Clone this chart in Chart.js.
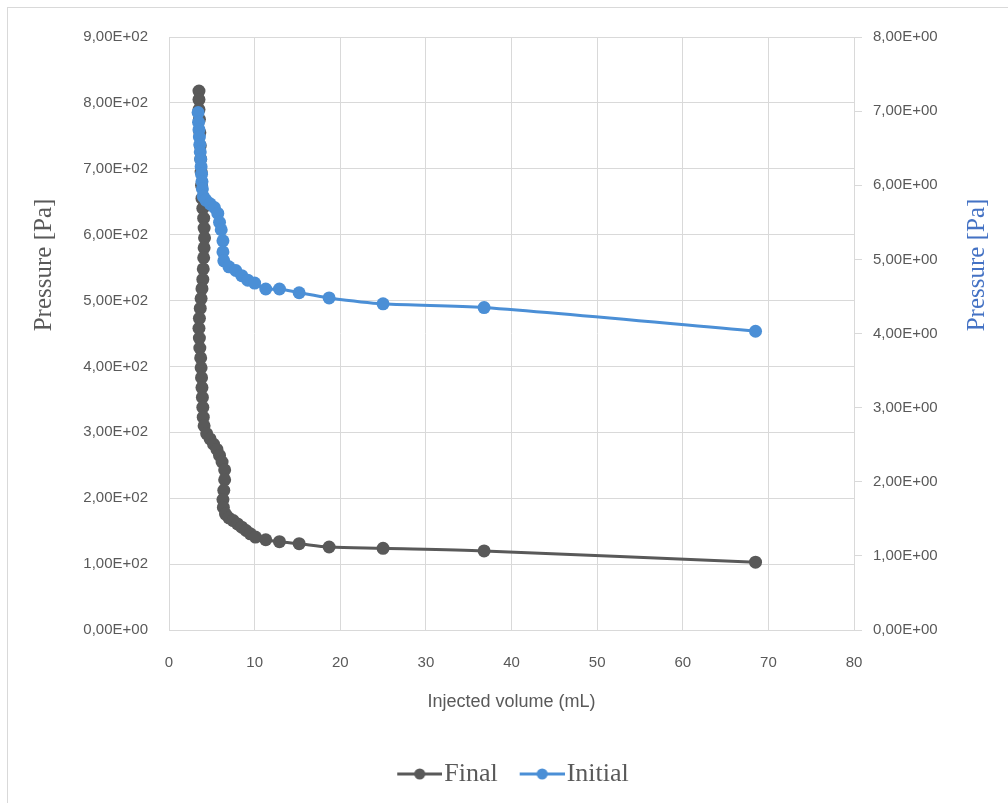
<!DOCTYPE html>
<html>
<head>
<meta charset="utf-8">
<script src="https://cdn.jsdelivr.net/npm/chart.js@4.4.0/dist/chart.umd.min.js"></script>
<style>
html, body { margin: 0; padding: 0; background: #fff; overflow: hidden; }
#frame { position: absolute; left: 7px; top: 7px; width: 1100px; height: 900px; border: 1px solid #d9d9d9; }
#wrap { position: absolute; left: 0; top: 0; width: 1008px; height: 803px; }
</style>
</head>
<body>
<div id="frame"></div>
<div id="wrap"><canvas id="myChart"></canvas></div>
<script>
// Final run (left axis)
var finalVolume = [3.5, 3.5, 3.5, 3.55, 3.6, 3.65, 3.7, 3.75, 3.8, 3.85, 3.95, 4.05, 4.1, 4.15, 4.1, 4.05, 4.0, 3.95, 3.85, 3.75,
    3.65, 3.55, 3.5, 3.55, 3.6, 3.7, 3.75, 3.8, 3.85, 3.9, 3.95, 4.0, 4.1, 4.4, 4.8, 5.2, 5.6, 5.9, 6.2, 6.5,
    6.5, 6.4, 6.3, 6.35, 6.6, 7.0, 7.5, 8.0, 8.5, 9.0, 9.5, 10.1, 11.3, 12.9, 15.2, 18.7, 25.0, 36.8, 68.5];
var finalPressure = [818, 805, 790, 775, 755, 735, 715, 695, 675, 655, 640, 625, 610, 595, 580, 565, 548, 532, 518, 503,
    488, 473, 458, 443, 428, 413, 398, 383, 368, 353, 338, 323, 310, 298, 290, 282, 274, 265, 255, 243,
    228, 212, 198, 186, 176, 170, 166, 161, 156, 151, 146, 141, 137, 134, 131, 126, 124, 120, 103];

// Initial run (right axis)
var initialVolume = [3.4, 3.45, 3.5, 3.55, 3.6, 3.65, 3.7, 3.75, 3.8, 3.85, 3.9, 4.0, 4.3, 4.8, 5.3, 5.7, 5.9, 6.1, 6.3, 6.3,
    6.4, 7.0, 7.8, 8.5, 9.2, 10.0, 11.3, 12.9, 15.2, 18.7, 25.0, 36.8, 68.5];
var initialPressure = [6.98, 6.85, 6.75, 6.65, 6.55, 6.45, 6.35, 6.25, 6.15, 6.05, 5.95, 5.85, 5.8, 5.75, 5.7, 5.62, 5.5, 5.4, 5.25, 5.1,
    4.98, 4.9, 4.85, 4.78, 4.72, 4.68, 4.6, 4.6, 4.55, 4.48, 4.4, 4.35, 4.03];

var xTickLabels = ['0', '10', '20', '30', '40', '50', '60', '70', '80'];
var leftTickLabels = ['0,00E+00', '1,00E+02', '2,00E+02', '3,00E+02', '4,00E+02', '5,00E+02', '6,00E+02', '7,00E+02', '8,00E+02', '9,00E+02'];
var rightTickLabels = ['0,00E+00', '1,00E+00', '2,00E+00', '3,00E+00', '4,00E+00', '5,00E+00', '6,00E+00', '7,00E+00', '8,00E+00'];
var seriesNames = ['Final', 'Initial'];
var yTitle = 'Pressure [Pa]';
var xTitle = 'Injected volume (mL)';

var gray = '#595959';
var blue = '#4b8fd6';
var gridColor = '#d9d9d9';

function toPoints(xs, ys) {
    return xs.map(function (x, i) { return { x: x, y: ys[i] }; });
}

// line with a dot, like the excel legend key (drawn in the right 45px of the image)
function legendKey(color) {
    var c = document.createElement('canvas');
    c.width = 56; c.height = 14;
    var g = c.getContext('2d');
    g.strokeStyle = color; g.lineWidth = 3;
    g.beginPath(); g.moveTo(11, 7); g.lineTo(56, 7); g.stroke();
    g.fillStyle = color;
    g.beginPath(); g.arc(33.5, 7, 5.5, 0, Math.PI * 2); g.fill();
    return c;
}
var keys = [legendKey(gray), legendKey(blue)];

// both y titles read bottom-to-top, as in the excel chart
var yTitles = {
    id: 'yTitles',
    afterDraw: function (chart) {
        var ctx = chart.ctx;
        ctx.save();
        ctx.font = '25px "Liberation Serif"';
        ctx.textAlign = 'center';
        ctx.textBaseline = 'middle';
        [[44, gray], [977, '#4472c4']].forEach(function (t) {
            ctx.save();
            ctx.translate(t[0], 265);
            ctx.rotate(-Math.PI / 2);
            ctx.fillStyle = t[1];
            ctx.fillText(yTitle, 0, 0);
            ctx.restore();
        });
        ctx.restore();
    }
};

var tickFont = { family: '"Liberation Sans"', size: 15 };

var ctx = document.getElementById('myChart').getContext('2d');
var chart = new Chart(ctx, {
    type: 'scatter',
    data: {
        datasets: [{
            label: seriesNames[0],
            data: toPoints(finalVolume, finalPressure),
            yAxisID: 'y',
            showLine: true,
            borderColor: gray,
            backgroundColor: gray,
            borderWidth: 3,
            pointRadius: 6.5,
            pointBorderWidth: 0,
            tension: 0.3,
            order: 1
        }, {
            label: seriesNames[1],
            data: toPoints(initialVolume, initialPressure),
            yAxisID: 'y2',
            showLine: true,
            borderColor: blue,
            backgroundColor: blue,
            borderWidth: 3,
            pointRadius: 6.5,
            pointBorderWidth: 0,
            tension: 0.3,
            order: 0
        }]
    },
    options: {
        responsive: true,
        maintainAspectRatio: false,
        animation: false,
        layout: { padding: { left: 18, right: 0, top: 37, bottom: 6 } },
        scales: {
            x: {
                type: 'linear',
                min: 0, max: 80,
                afterFit: function (s) { s.height = 109; },
                ticks: {
                    stepSize: 10,
                    padding: 24,
                    color: gray,
                    font: tickFont,
                    maxRotation: 0,
                    callback: function (v) { return xTickLabels[Math.round(v / 10)]; }
                },
                grid: { color: gridColor, drawTicks: false },
                border: { color: gridColor },
                title: {
                    display: true,
                    text: xTitle,
                    color: gray,
                    font: { family: '"Liberation Sans"', size: 18 },
                    padding: { top: 0, bottom: 26 }
                }
            },
            y: {
                position: 'left',
                min: 0, max: 900,
                afterFit: function (s) { s.width = 151; },
                ticks: {
                    stepSize: 100,
                    padding: 21,
                    color: gray,
                    font: tickFont,
                    callback: function (v) { return leftTickLabels[Math.round(v / 100)]; }
                },
                grid: { color: gridColor, drawTicks: false },
                border: { color: gridColor }
            },
            y2: {
                position: 'right',
                min: 0, max: 8,
                afterFit: function (s) { s.width = 154; },
                ticks: {
                    stepSize: 1,
                    padding: 11,
                    color: gray,
                    font: tickFont,
                    callback: function (v) { return rightTickLabels[Math.round(v)]; }
                },
                grid: { color: gridColor, drawOnChartArea: false, tickLength: 8 },
                border: { color: gridColor }
            }
        },
        plugins: {
            tooltip: { enabled: false },
            legend: {
                position: 'bottom',
                labels: {
                    usePointStyle: true,
                    pointStyleWidth: 34,
                    padding: 22,
                    color: gray,
                    font: { family: '"Liberation Serif"', size: 26 },
                    generateLabels: function (chart) {
                        var items = Chart.defaults.plugins.legend.labels.generateLabels(chart);
                        items.sort(function (a, b) { return a.datasetIndex - b.datasetIndex; });
                        items.forEach(function (it) { it.pointStyle = keys[it.datasetIndex]; });
                        return items;
                    }
                }
            }
        }
    },
    plugins: [yTitles]
});
</script>
</body>
</html>
